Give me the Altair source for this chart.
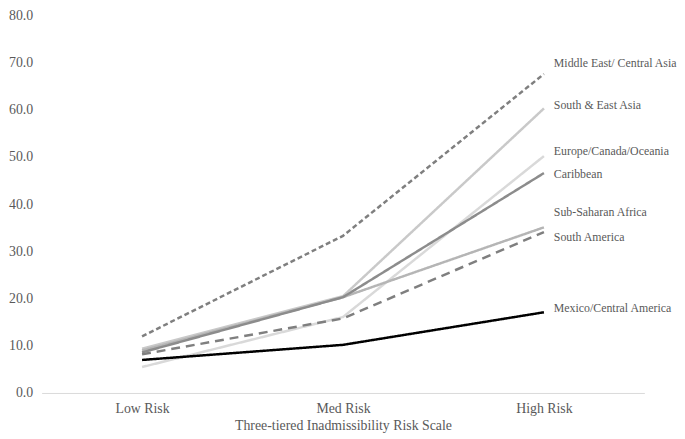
import altair as alt
import pandas as pd

risk_levels = ["Low Risk", "Med Risk", "High Risk"]

regions = [
    "Europe/Canada/Oceania",
    "South & East Asia",
    "Sub-Saharan Africa",
    "Caribbean",
    "South America",
    "Middle East/ Central Asia",
    "Mexico/Central America",
]
values = {
    "Europe/Canada/Oceania": [5.5, 16.1, 50.2],
    "South & East Asia": [9.4, 20.5, 60.3],
    "Sub-Saharan Africa": [9.0, 20.3, 35.1],
    "Caribbean": [8.6, 20.3, 46.6],
    "South America": [8.2, 15.8, 34.1],
    "Middle East/ Central Asia": [12.0, 33.3, 67.6],
    "Mexico/Central America": [7.0, 10.2, 17.1],
}
label_y = {
    "Europe/Canada/Oceania": 51.2,
    "South & East Asia": 61.0,
    "Sub-Saharan Africa": 38.4,
    "Caribbean": 46.3,
    "South America": 33.1,
    "Middle East/ Central Asia": 70.0,
    "Mexico/Central America": 18.0,
}
colors = ["#d9d9d9", "#c9c9c9", "#b5b5b5", "#8c8c8c", "#7f7f7f", "#7f7f7f", "#000000"]
dashes = [[1, 0], [1, 0], [1, 0], [1, 0], [9, 6], [5, 3], [1, 0]]
widths = [2.5, 2.5, 2.5, 2.5, 2.5, 2.5, 4.5]

rows = []
for i, r in enumerate(regions):
    for lvl, v in zip(risk_levels, values[r]):
        rows.append({"region": r, "risk": lvl, "value": v, "ord": i})
df = pd.DataFrame(rows)
lab = pd.DataFrame({"region": regions, "risk": [risk_levels[-1]] * len(regions),
                    "ly": [label_y[r] for r in regions]})

FONT = "Liberation Serif"
TXT = "#595959"

x = alt.X("risk:N", sort=risk_levels, scale=alt.Scale(domain=risk_levels, padding=0.5),
          axis=alt.Axis(title="Three-tiered Inadmissibility Risk Scale", labelAngle=0,
                        ticks=False, domainColor="#d9d9d9", domainWidth=1,
                        labelFont=FONT, labelFontSize=14, labelColor=TXT, labelPadding=9,
                        titleFont=FONT, titleFontSize=14, titleColor=TXT,
                        titleFontWeight="normal", titlePadding=3, grid=False))

lines = alt.Chart(df).mark_line().encode(
    x=x,
    y=alt.Y("value:Q", scale=alt.Scale(domain=[0, 80], nice=False),
            axis=alt.Axis(title=None, values=list(range(0, 81, 10)), format=".1f",
                          ticks=False, domain=False, grid=False,
                          labelFont=FONT, labelFontSize=14, labelColor=TXT, labelPadding=9)),
    color=alt.Color("region:N", scale=alt.Scale(domain=regions, range=colors), legend=None),
    strokeDash=alt.StrokeDash("region:N", scale=alt.Scale(domain=regions, range=dashes), legend=None),
    strokeWidth=alt.StrokeWidth("region:N", scale=alt.Scale(domain=regions, range=widths), legend=None),
    order=alt.Order("ord:Q"),
)

labels = alt.Chart(lab).mark_text(align="left", baseline="middle", dx=10, font=FONT,
                                  fontSize=12, color=TXT).encode(
    x=alt.X("risk:N", sort=risk_levels),
    y=alt.Y("ly:Q"),
    text="region:N",
)

chart = alt.layer(lines, labels).properties(
    width=610, height=382,
    autosize=alt.AutoSizeParams(type="none"),
    padding={"left": 34, "top": 5, "right": 33, "bottom": 44},
).configure_view(stroke=None)

chart.save("out.html", embed_options={"renderer": "svg", "actions": False})
